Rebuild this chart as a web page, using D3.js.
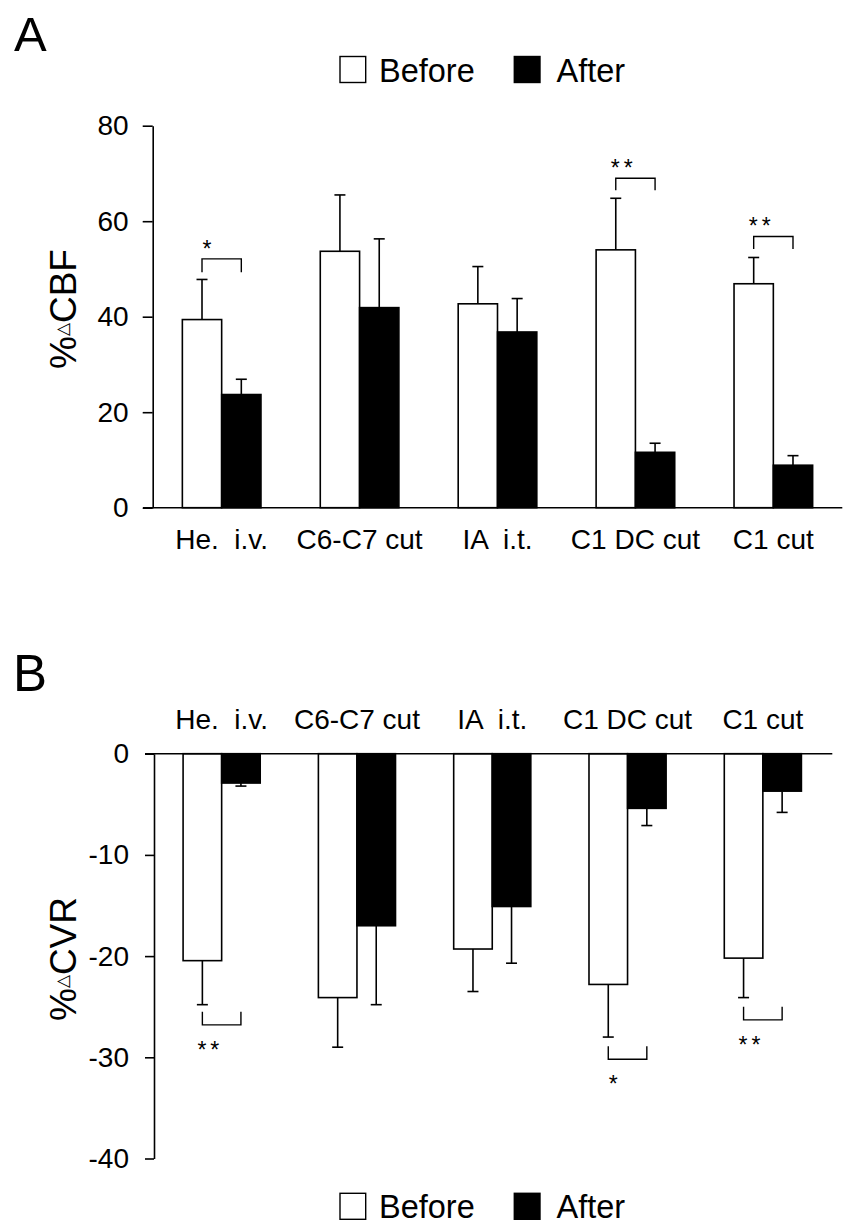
<!DOCTYPE html>
<html>
<head>
<meta charset="utf-8">
<script src="https://cdn.jsdelivr.net/npm/d3@7"></script>
<style>
  body { margin: 0; background: #fff; }
  svg { display: block; font-family: "Liberation Sans", Arial, sans-serif; }
  text { white-space: pre; }
</style>
</head>
<body>
<script>
// ---------- data ----------
const categories = ["He.  i.v.", "C6-C7 cut", "IA  i.t.", "C1 DC cut", "C1 cut"];
const seriesNames = ["Before", "After"];

const cbfBefore    = [39.4, 53.7, 42.7, 54.0, 46.9];
const cbfBeforeErr = [8.4, 11.8, 7.8, 10.8, 5.5];
const cbfAfter     = [23.7, 41.9, 36.8, 11.6, 8.9];
const cbfAfterErr  = [3.2, 14.4, 7.0, 1.9, 2.0];

const cvrBefore    = [-20.45, -24.1, -19.3, -22.8, -20.2];
const cvrBeforeErr = [4.35, 4.9, 4.2, 5.2, 3.9];
const cvrAfter     = [-2.9, -17.0, -15.1, -5.4, -3.7];
const cvrAfterErr  = [0.3, 7.8, 5.6, 1.7, 2.1];

const cbfTicks = [0, 20, 40, 60, 80];
const cvrTicks = [-40, -30, -20, -10, 0];

// significance brackets: group index, bracket line value, leg end value, label
const cbfSigGroup = [0, 3, 4];
const cbfSigLine  = [52.1, 69.0, 56.8];
const cbfSigLeg   = [49.3, 66.5, 54.2];
const cbfSigLabel = ["*", "**", "**"];

const cvrSigGroup = [0, 3, 4];
const cvrSigLine  = [-26.8, -30.2, -26.3];
const cvrSigLeg   = [-25.5, -28.9, -25.0];
const cvrSigLabel = ["**", "*", "**"];

// ---------- drawing ----------
const svg = d3.select("body").append("svg").attr("width", 854).attr("height", 1230);
const SW = 1.6;
const FONT = "Liberation Sans, Arial, sans-serif";

function panel(opts) {
  const { x, y, before, beforeErr, after, afterErr, sigGroup, sigLine, sigLeg, sigLabel, negative } = opts;
  const g = svg.append("g");
  const barW = x.bandwidth() * 0.285;
  const y0 = y(0);
  const rows = categories.map((c, i) => ({
    c, i,
    vals: [
      { s: 0, v: before[i], e: beforeErr[i] },
      { s: 1, v: after[i],  e: afterErr[i] }
    ]
  }));
  const cx = (c, s) => x(c) + x.bandwidth() / 2 + (s === 0 ? -barW / 2 : barW / 2);

  rows.forEach(r => r.vals.forEach(d => {
    const end = d.v + (negative ? -d.e : d.e);
    const xc = cx(r.c, d.s);
    g.append("line").attr("x1", xc).attr("x2", xc).attr("y1", y(d.v)).attr("y2", y(end))
      .attr("stroke", "#000").attr("stroke-width", SW);
    g.append("line").attr("x1", xc - 5.5).attr("x2", xc + 5.5).attr("y1", y(end)).attr("y2", y(end))
      .attr("stroke", "#000").attr("stroke-width", SW);
  }));

  rows.forEach(r => {
    g.selectAll(null).data(r.vals).join("rect")
      .attr("x", d => cx(r.c, d.s) - barW / 2)
      .attr("y", d => Math.min(y(d.v), y0))
      .attr("width", barW)
      .attr("height", d => Math.abs(y(d.v) - y0))
      .attr("fill", d => d.s === 0 ? "#fff" : "#000")
      .attr("stroke", "#000").attr("stroke-width", SW);
  });

  sigGroup.forEach((gi, k) => {
    const c = categories[gi];
    const xl = cx(c, 0), xr = cx(c, 1);
    const yl = y(sigLine[k]), yg = y(sigLeg[k]);
    g.append("path")
      .attr("d", `M${xl},${yg}V${yl}H${xr}V${yg}`)
      .attr("fill", "none").attr("stroke", "#000").attr("stroke-width", 1.4);
    g.append("text")
      .attr("x", xl + (sigLabel[k].length > 1 ? 8 : 5))
      .attr("y", negative ? yl + 33 : yl - 2)
      .attr("text-anchor", "middle")
      .attr("font-size", 23)
      .attr("letter-spacing", sigLabel[k].length > 1 ? 4 : 0)
      .text(sigLabel[k]);
  });
  return g;
}

// ----- Panel A -----
const xA = d3.scaleBand().domain(categories).range([152.7, 842.3]).padding(0);
const yA = d3.scaleLinear().domain([0, 80]).range([507.7, 125.7]);

panel({ x: xA, y: yA, before: cbfBefore, beforeErr: cbfBeforeErr, after: cbfAfter, afterErr: cbfAfterErr,
  sigGroup: cbfSigGroup, sigLine: cbfSigLine, sigLeg: cbfSigLeg, sigLabel: cbfSigLabel, negative: false });

const axAy = svg.append("g").attr("transform", `translate(152.7,0)`)
  .call(d3.axisLeft(yA).tickValues(cbfTicks).tickFormat(d => String(d)).tickSize(10).tickSizeOuter(0).tickPadding(14));
axAy.selectAll("path,line").attr("stroke", "#000").attr("stroke-width", SW);
axAy.selectAll("text").attr("font-size", 28).attr("font-family", FONT).attr("fill", "#000");

const axAx = svg.append("g").attr("transform", `translate(0,${yA(0)})`)
  .call(d3.axisBottom(xA).tickSize(0).tickSizeOuter(0));
axAx.select(".domain").remove();
axAx.selectAll("text").attr("y", 41.3).attr("dy", 0).attr("font-size", 28)
  .attr("font-family", FONT).attr("fill", "#000");
svg.append("line").attr("x1", 143).attr("x2", xA.range()[1]).attr("y1", yA(0)).attr("y2", yA(0))
  .attr("stroke", "#000").attr("stroke-width", SW);

const tA = svg.append("text").attr("transform", `translate(76,309) rotate(-90)`)
  .attr("text-anchor", "middle").attr("font-size", 37);
tA.append("tspan").text("%");
tA.append("tspan").attr("font-size", 17).attr("dy", -8).text("△");
tA.append("tspan").attr("dy", 8).text("CBF");

svg.append("text").attr("x", 14).attr("y", 51).attr("font-size", 49).text("A");

// top legend
const legX = [340, 514.3];
const legTx = [379, 556.5];
seriesNames.forEach((s, i) => {
  svg.append("rect").attr("x", legX[i]).attr("y", 56.5).attr("width", 25.7).attr("height", 26)
    .attr("fill", i === 0 ? "#fff" : "#000").attr("stroke", "#000").attr("stroke-width", 1.4);
  svg.append("text").attr("x", legTx[i]).attr("y", 81.5).attr("font-size", 32.5).text(s);
});

// ----- Panel B -----
const xB = d3.scaleBand().domain(categories).range([154, 830.5]).padding(0);
const yB = d3.scaleLinear().domain([-40, 0]).range([1158.5, 753.7]);

panel({ x: xB, y: yB, before: cvrBefore, beforeErr: cvrBeforeErr, after: cvrAfter, afterErr: cvrAfterErr,
  sigGroup: cvrSigGroup, sigLine: cvrSigLine, sigLeg: cvrSigLeg, sigLabel: cvrSigLabel, negative: true });

const axBy = svg.append("g").attr("transform", `translate(154,0)`)
  .call(d3.axisLeft(yB).tickValues(cvrTicks).tickFormat(d => String(d)).tickSize(9).tickSizeOuter(0).tickPadding(16));
axBy.selectAll("path,line").attr("stroke", "#000").attr("stroke-width", SW);
axBy.selectAll("text").attr("font-size", 28).attr("font-family", FONT).attr("fill", "#000");

const axBx = svg.append("g").attr("transform", `translate(0,${yB(0)})`)
  .call(d3.axisTop(xB).tickSize(0).tickSizeOuter(0));
axBx.select(".domain").remove();
axBx.selectAll("text").attr("y", -25.1).attr("dy", 0).attr("font-size", 28)
  .attr("font-family", FONT).attr("fill", "#000");
svg.append("line").attr("x1", 145).attr("x2", 832.3).attr("y1", yB(0)).attr("y2", yB(0))
  .attr("stroke", "#000").attr("stroke-width", SW);

const tB = svg.append("text").attr("transform", `translate(76,959) rotate(-90)`)
  .attr("text-anchor", "middle").attr("font-size", 37);
tB.append("tspan").text("%");
tB.append("tspan").attr("font-size", 17).attr("dy", -8).text("△");
tB.append("tspan").attr("dy", 8).text("CVR");

svg.append("text").attr("x", 13).attr("y", 690.7).attr("font-size", 51).text("B");

// bottom legend
seriesNames.forEach((s, i) => {
  svg.append("rect").attr("x", legX[i]).attr("y", 1193.3).attr("width", 25.7).attr("height", 26)
    .attr("fill", i === 0 ? "#fff" : "#000").attr("stroke", "#000").attr("stroke-width", 1.4);
  svg.append("text").attr("x", legTx[i]).attr("y", 1218.3).attr("font-size", 32.5).text(s);
});
</script>
</body>
</html>
